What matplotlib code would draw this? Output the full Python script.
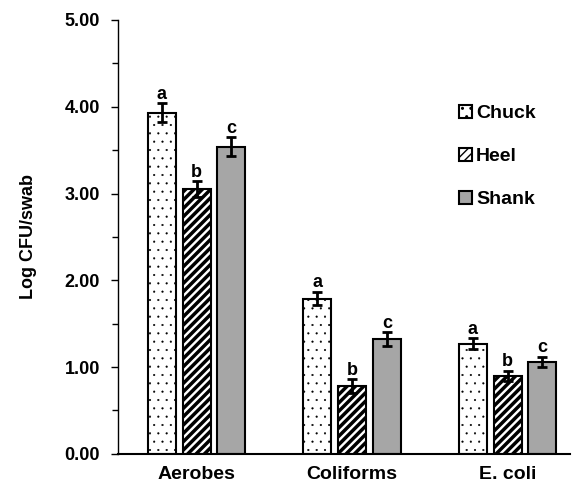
import matplotlib.pyplot as plt
import numpy as np
from matplotlib.ticker import MultipleLocator

plt.rcParams['font.family'] = ['Liberation Sans', 'DejaVu Sans']
plt.rcParams['font.weight'] = 'bold'

# Data
categories = ["Aerobes", "Coliforms", "E. coli"]
series = ["Chuck", "Heel", "Shank"]
chuck = [3.93, 1.79, 1.27]
heel = [3.05, 0.78, 0.90]
shank = [3.54, 1.32, 1.06]
chuck_err = [0.11, 0.08, 0.06]
heel_err = [0.09, 0.08, 0.06]
shank_err = [0.11, 0.08, 0.06]
letters = ["a", "b", "c"]

values = [chuck, heel, shank]
errors = [chuck_err, heel_err, shank_err]
faces = ["white", "white", "#A6A6A6"]
hatches = ["..", "////", None]
hatch_lw = [0.3, 2.5, 1.0]

fig = plt.figure(figsize=(5.79, 4.87), dpi=100)
ax = fig.add_axes([0.204, 0.068, 0.78, 0.891])

x = np.arange(len(categories))
width = 0.18
offsets = [-0.224, 0, 0.224]

for i in range(3):
    bars = ax.bar(x + offsets[i], values[i], width, color=faces[i],
                  edgecolor="black", linewidth=1.5, hatch=hatches[i],
                  label=series[i], zorder=2)
    for b in bars:
        b.set_hatch_linewidth(hatch_lw[i])
    ax.errorbar(x + offsets[i], values[i], yerr=errors[i], fmt="none",
                ecolor="black", elinewidth=2, capsize=3.5, capthick=2, zorder=3)
    for xi, v, e in zip(x + offsets[i], values[i], errors[i]):
        ax.text(xi, v + e + 0.005, letters[i], ha="center", va="bottom",
                fontsize=13, fontweight="bold")

ax.set_xlim(-0.505, 2.4)
ax.set_ylim(0, 5)
ax.yaxis.set_minor_locator(MultipleLocator(0.5))
ax.set_yticks(np.arange(0, 5.01, 1))
ax.set_yticklabels([f"{v:.2f}" for v in np.arange(0, 5.01, 1)])
ax.tick_params(axis="y", which="major", length=5, width=1, labelsize=13, direction="out", pad=8)
ax.tick_params(axis="y", which="minor", length=4, width=1, direction="out")
ax.set_xticks(x)
ax.set_xticklabels(categories, fontsize=14, fontweight="bold")
ax.tick_params(axis="x", length=0, pad=9)

ax.spines["top"].set_visible(False)
ax.spines["right"].set_visible(False)
ax.spines["left"].set_linewidth(1)
ax.spines["bottom"].set_linewidth(1.5)

ax.set_ylabel("Log CFU/swab", fontsize=13, fontweight="bold", labelpad=20)

ax.legend(loc="upper left", bbox_to_anchor=(0.715, 0.845), frameon=False,
          fontsize=14, handlelength=0.7, handleheight=0.7, handletextpad=0.2,
          labelspacing=1.3)

plt.savefig("out.png", dpi=100)
